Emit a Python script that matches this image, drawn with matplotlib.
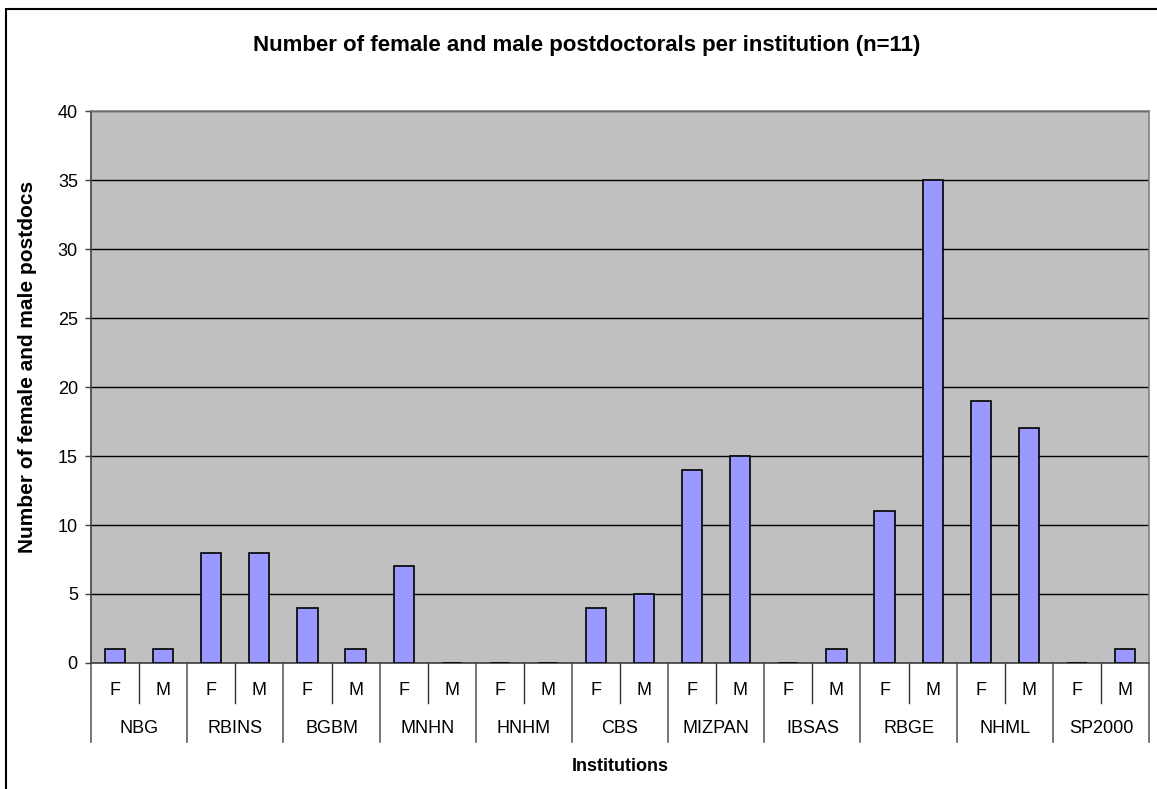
import matplotlib.pyplot as plt
from matplotlib.patches import Rectangle
import matplotlib.transforms as mtransforms

plt.rcParams['font.family'] = ['Liberation Sans', 'DejaVu Sans']

institutions = ['NBG', 'RBINS', 'BGBM', 'MNHN', 'HNHM', 'CBS', 'MIZPAN', 'IBSAS', 'RBGE', 'NHML', 'SP2000']
sexes = ['F', 'M']
female = [1, 8, 4, 7, 0, 4, 14, 0, 11, 19, 0]
male = [1, 8, 1, 0, 0, 5, 15, 1, 35, 17, 1]

# interleave F/M per institution
values = []
labels = []
for f, m in zip(female, male):
    values += [f, m]
    labels += sexes
xpos = list(range(len(values)))

fig = plt.figure(figsize=(11.57, 7.89), dpi=100)
ax = fig.add_axes([0.0787, 0.1597, 0.9144, 0.6996])
ax.set_facecolor('#C0C0C0')

ax.bar(xpos, values, width=0.42, color='#9999FF', edgecolor='black', linewidth=1.2, zorder=3)

ax.set_ylim(0, 40)
ax.set_xlim(-0.5, len(values) - 0.5)
ax.set_yticks(range(0, 41, 5))
ax.yaxis.grid(True, color='black', linewidth=1.0, zorder=1)
ax.set_axisbelow(True)
ax.tick_params(axis='y', direction='out', length=4.5, width=1, color='#404040', labelsize=13, pad=5)

ax.set_xticks([])

for side in ['top', 'right']:
    ax.spines[side].set_color('#808080')
    ax.spines[side].set_linewidth(1.2)
ax.spines['left'].set_color('#404040')
ax.spines['left'].set_linewidth(1.2)
ax.spines['bottom'].set_color('#404040')
ax.spines['bottom'].set_linewidth(1.2)

# two-level category axis: F/M under each bar, institution under each pair
trans = mtransforms.blended_transform_factory(ax.transData, ax.transAxes)
for x, lab in zip(xpos, labels):
    ax.text(x, -0.049, lab, transform=trans, ha='center', va='center', fontsize=13)
for i in range(len(institutions) + 1):
    ax.plot([2 * i - 0.5] * 2, [0, -0.143], transform=trans, color='#606060',
            linewidth=1.2, clip_on=False)
for i, name in enumerate(institutions):
    ax.plot([2 * i + 0.5] * 2, [0, -0.0725], transform=trans, color='#303030',
            linewidth=1.0, clip_on=False)
    ax.text(2 * i + 0.5, -0.118, name, transform=trans, ha='center', va='center', fontsize=13)

ax.text(0.5, -0.187, 'Institutions', transform=ax.transAxes, ha='center', va='center',
        fontsize=13, fontweight='bold')
ax.set_ylabel('Number of female and male postdocs', fontsize=15, fontweight='bold')
ax.yaxis.set_label_coords(-0.051, 0.536)

fig.text(587 / 1157, 1 - 45 / 789, 'Number of female and male postdoctorals per institution (n=11)',
         ha='center', va='center', fontsize=16, fontweight='bold')

# outer chart frame
fig.patches.append(Rectangle((6 / 1157, -0.1), 1.2, 1 - 9 / 789 + 0.1, transform=fig.transFigure,
                             fill=False, edgecolor='black', linewidth=1.5))

fig.savefig('out.png', dpi=100)
